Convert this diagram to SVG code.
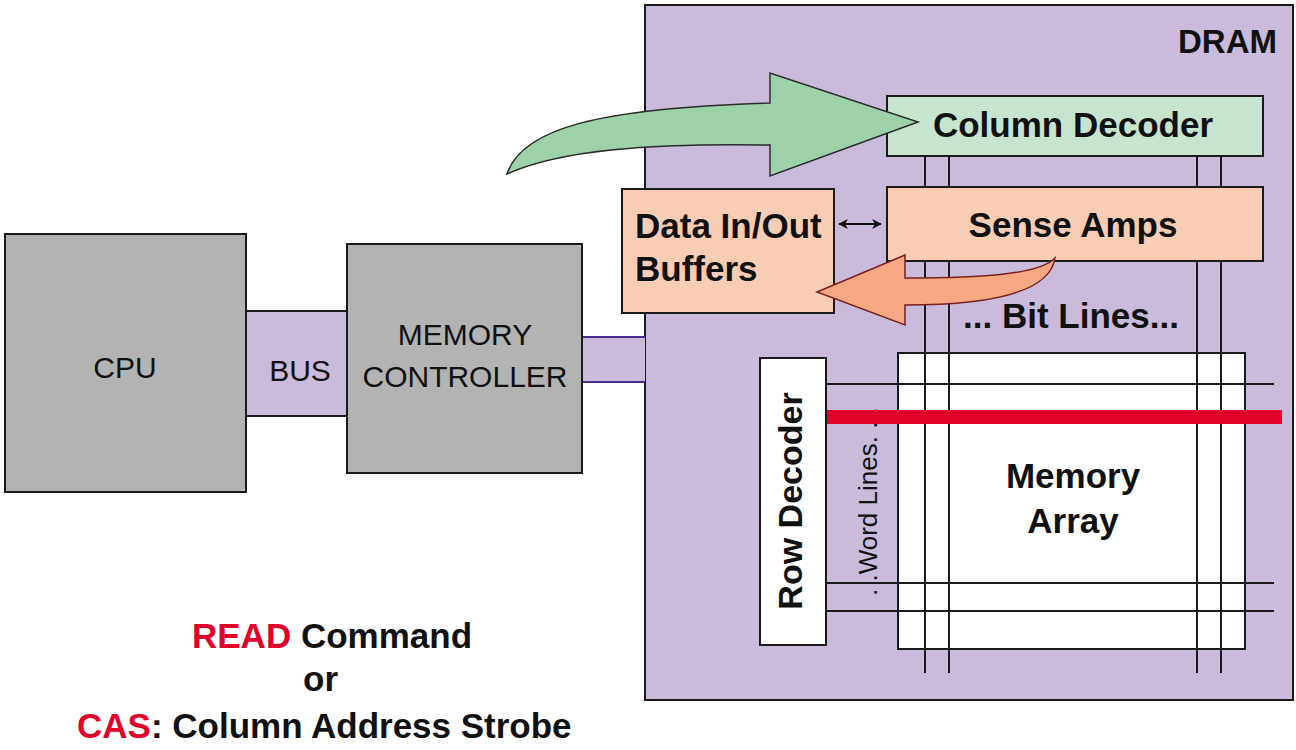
<svg xmlns="http://www.w3.org/2000/svg" width="1296" height="750" viewBox="0 0 1296 750">
  <defs>
    <style>
      .box { stroke: #1a1a1a; stroke-width: 2; }
      .gray { fill: #b3b3b3; }
      .lilac { fill: #c9bbd9; }
      .peach { fill: #f9cdb4; }
      .mint { fill: #c7e4cf; }
      .white { fill: #ffffff; }
      .wire { stroke: #1a1a1a; stroke-width: 2; fill: none; }
      .lbl { font-family: "Liberation Sans", Arial, sans-serif; fill: #111; }
      .big { font-size: 35px; font-weight: bold; }
      .plain { font-size: 30px; }
      .red { fill: #e0002a; }
    </style>
    <marker id="tip" viewBox="0 0 10 10" refX="9" refY="5" markerWidth="5" markerHeight="5" orient="auto-start-reverse">
      <path d="M0,0 L10,5 L0,10 L3,5 Z" fill="#111"/>
    </marker>
  </defs>

  <!-- DRAM chip outline -->
  <g id="dram">
    <rect class="box lilac" x="645" y="5" width="648" height="695"/>
    <text class="lbl" x="1277" y="53" font-size="33" font-weight="bold" text-anchor="end">DRAM</text>
  </g>

  <!-- buses -->
  <g id="connectors">
    <rect class="lilac" x="246" y="311" width="102" height="105" stroke="#1a1a1a" stroke-width="2"/>
    <rect class="lilac" x="582" y="337" width="63" height="45"/>
    <line x1="582" y1="337" x2="645" y2="337" stroke="#4a2a8c" stroke-width="2"/>
    <line x1="582" y1="382" x2="645" y2="382" stroke="#4a2a8c" stroke-width="2"/>
    <!-- bit lines -->
    <path class="wire" d="M925,156 V187 M949,156 V187 M1197,156 V187 M1221,156 V187"/>
    <!-- data buffers <-> sense amps -->
    <line x1="839" y1="224" x2="881" y2="224" stroke="#111" stroke-width="2" marker-start="url(#tip)" marker-end="url(#tip)"/>
  </g>

  <g id="bus-label">
    <text class="lbl plain" x="300" y="381" text-anchor="middle">BUS</text>
  </g>

  <g id="cpu">
    <rect class="box gray" x="5" y="234" width="241" height="258"/>
    <text class="lbl plain" x="125" y="378" text-anchor="middle">CPU</text>
  </g>

  <g id="memory-controller">
    <rect class="box gray" x="347" y="244" width="235" height="229"/>
    <text class="lbl plain" x="465" y="345" text-anchor="middle">MEMORY</text>
    <text class="lbl plain" x="465" y="387" text-anchor="middle">CONTROLLER</text>
  </g>

  <g id="memory-array">
    <rect class="box white" x="898" y="353" width="347" height="296"/>
    <text class="lbl big" x="1073" y="488" text-anchor="middle">Memory</text>
    <text class="lbl big" x="1073" y="533" text-anchor="middle">Array</text>
  </g>

  <!-- bit and word lines over the array -->
  <g id="lines">
    <path class="wire" d="M925,261 V673 M949,261 V673 M1197,261 V673 M1221,261 V673"/>
    <path class="wire" d="M826,384 H1274 M826,583 H1274 M826,611 H1274"/>
    <text class="lbl" font-size="26" x="877" y="596" transform="rotate(-90 877 596)">. .Word Lines. . .</text>
    <rect x="826" y="410" width="456" height="14" fill="#e0002a"/>
    <text class="lbl big" x="963" y="328">... Bit Lines...</text>
  </g>

  <g id="row-decoder">
    <rect class="box white" x="760" y="358" width="66" height="287"/>
    <text class="lbl" font-size="34" font-weight="bold" x="802" y="501" text-anchor="middle" transform="rotate(-90 802 501)">Row Decoder</text>
  </g>

  <g id="column-decoder">
    <rect class="box mint" x="887" y="96" width="376" height="60"/>
    <text class="lbl big" x="1073" y="137" text-anchor="middle">Column Decoder</text>
  </g>

  <g id="sense-amps">
    <rect class="box peach" x="887" y="187" width="376" height="74"/>
    <text class="lbl big" x="1073" y="237" text-anchor="middle">Sense Amps</text>
  </g>

  <g id="data-buffers">
    <rect class="box peach" x="622" y="189" width="212" height="124"/>
    <text class="lbl big" x="635" y="238">Data In/Out</text>
    <text class="lbl big" x="635" y="281">Buffers</text>
  </g>

  <!-- command flow: controller to column decoder -->
  <g id="cas-arrow">
    <path d="M507,174 C522,128 600,108 770,103 L770,73 L918,122 L770,176 L770,145 C650,143 560,150 507,174 Z" fill="#9dd1a9" stroke="#2b2b2b" stroke-width="1.5"/>
  </g>

  <!-- data flow: sense amps to buffers -->
  <g id="data-arrow">
    <path d="M817,292 L905,255 L905,278 C985,278 1040,274 1055,258 C1050,292 990,305 905,305 L905,325 Z" fill="#f6a882" stroke="#7a1f1f" stroke-width="1.5"/>
  </g>

  <g id="caption">
    <text class="lbl big" x="192" y="648"><tspan class="red">READ</tspan> Command</text>
    <text class="lbl big" x="303" y="691">or</text>
    <text class="lbl big" x="77" y="738"><tspan class="red">CAS</tspan>: Column Address Strobe</text>
  </g>
</svg>
